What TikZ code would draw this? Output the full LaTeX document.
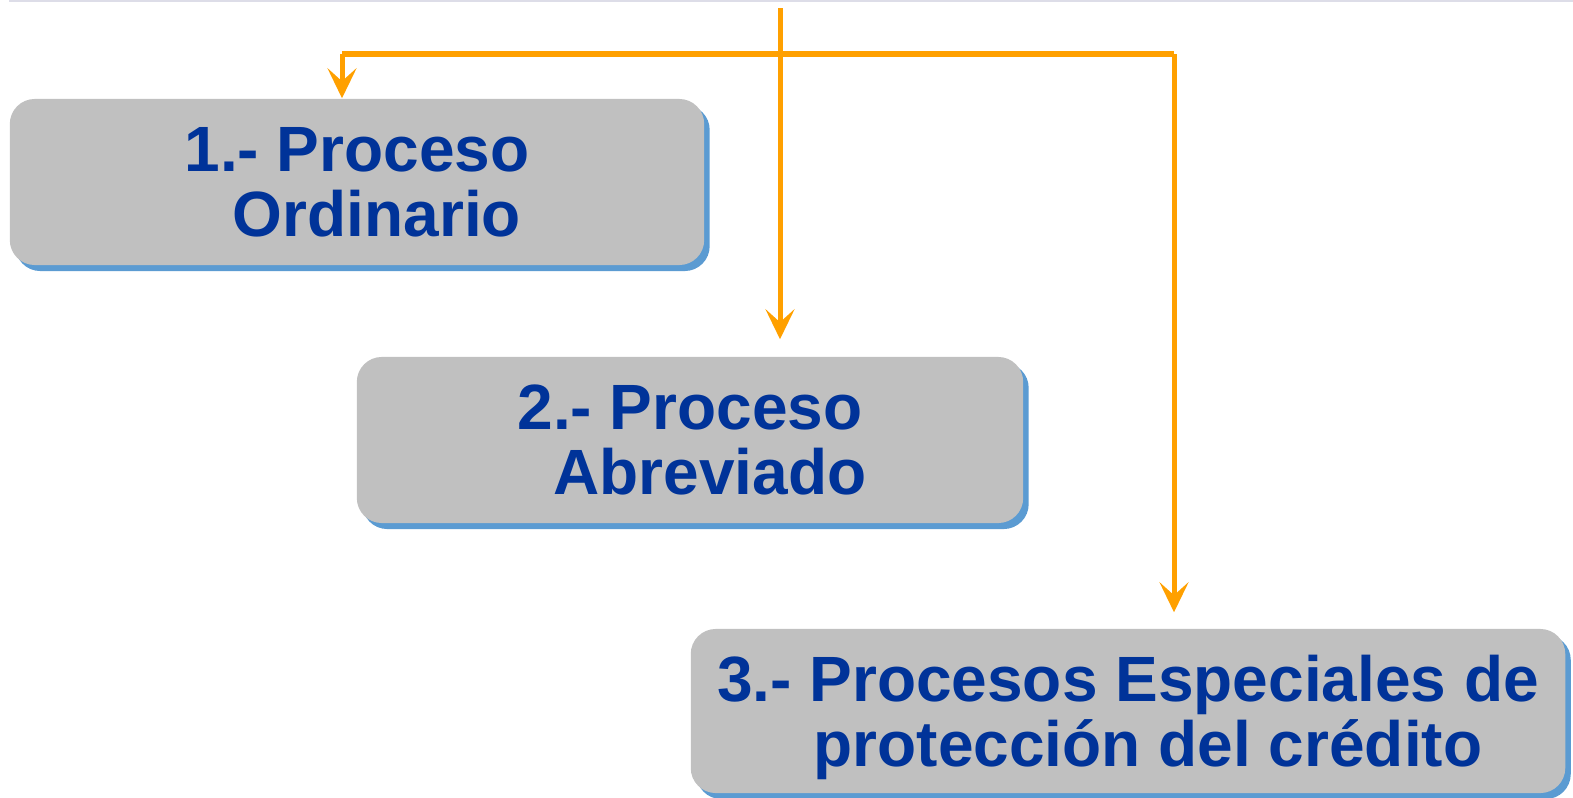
\documentclass[tikz,border=0pt]{standalone}
\usepackage{fontspec}
\setmainfont{Liberation Sans}
\usepackage{tikz}
\usetikzlibrary{arrows.meta}
\usetikzlibrary{shadows}

\definecolor{naranja}{RGB}{255,160,0}
\definecolor{azultexto}{RGB}{0,51,153}
\definecolor{azulsombra}{RGB}{91,155,210}
\definecolor{gris}{RGB}{192,192,192}
\definecolor{lila}{RGB}{221,221,232}

\begin{document}
\begin{tikzpicture}[x=0.01cm,y=-0.01cm,
  proceso/.style={rectangle,rounded corners=0.25cm,fill=gris,inner sep=0pt,
    general shadow={fill=azulsombra,shadow xshift=0.055cm,shadow yshift=-0.06cm},
    align=center,text=azultexto,text depth=0pt,
    font=\fontsize{18.2}{18.5}\selectfont\bfseries},
  flecha/.style={draw=naranja,line width=0.05cm,-{Stealth[length=0.3cm,width=0.29cm,inset=0.13cm]}}]
  \useasboundingbox (0,0) rectangle (1573,797);

  %top line
  \draw[lila,line width=0.02cm] (9,1) -- (1573,1);

  %boxes
  \node[proceso,minimum width=6.94cm,minimum height=1.66cm] (p1) at (357,182)
    {1.- Proceso\\\hspace*{0.4cm}Ordinario};
  \node[proceso,minimum width=6.66cm,minimum height=1.66cm] (p2) at (690,440)
    {2.- Proceso\\\hspace*{0.4cm}Abreviado};
  \node[proceso,minimum width=8.74cm,minimum height=1.64cm] (p3) at (1128,711)
    {3.- Procesos Especiales de\\\hspace*{0.4cm}protección del crédito};

  %branch points
  \coordinate (src) at (780,8);
  \coordinate (izq) at (342,54);
  \coordinate (der) at (1174,54);

  %middle arrow
  \draw[flecha,shorten >=0.17cm] (src) -- (src |- p2.north);

  %bar
  \draw[naranja,line width=0.05cm] (izq) -- (der);

  %side arrows
  \draw[flecha] (izq) -- (izq |- p1.north);
  \draw[flecha,shorten >=0.16cm] (der) -- (der |- p3.north);
\end{tikzpicture}
\end{document}
